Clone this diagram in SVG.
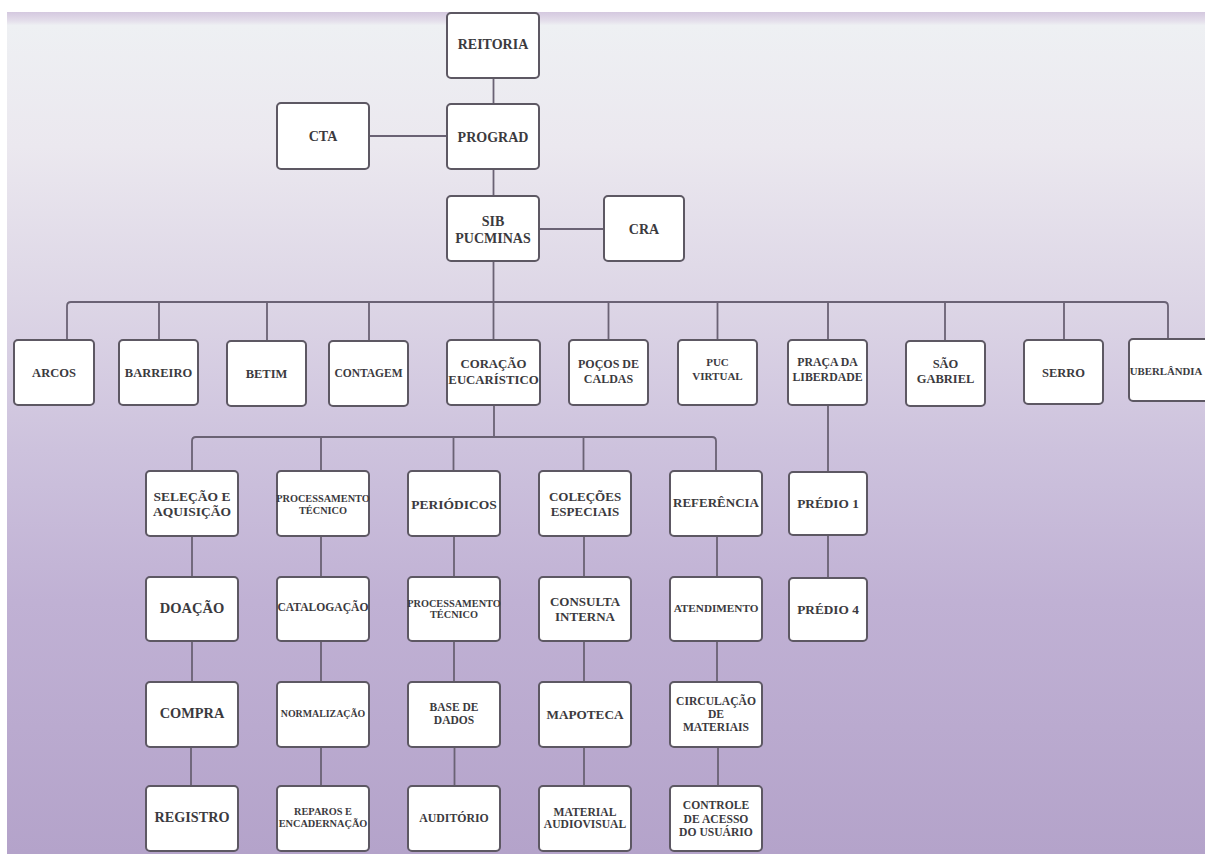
<svg xmlns="http://www.w3.org/2000/svg" width="1205" height="854" viewBox="0 0 1205 854">
<defs>
<linearGradient id="bg" gradientUnits="userSpaceOnUse" x1="0" y1="12" x2="0" y2="854">
<stop offset="0" stop-color="#d4c8df"/>
<stop offset="0.01" stop-color="#e3ddea"/>
<stop offset="0.016" stop-color="#eef0f3"/>
<stop offset="0.16" stop-color="#ebe8ef"/>
<stop offset="0.34" stop-color="#ddd6e6"/>
<stop offset="0.52" stop-color="#cdc2dd"/>
<stop offset="0.70" stop-color="#c0b1d4"/>
<stop offset="1" stop-color="#b4a3ca"/>
</linearGradient>
<style>
.box{fill:#ffffff;stroke:#5d5863;stroke-width:2}
.ln{fill:none;stroke:#6a6274;stroke-width:1.8}
text{font-family:"Liberation Serif","Times New Roman",serif;font-weight:bold;fill:#3b3a3e;text-anchor:middle}
</style>
</defs>
<rect x="0" y="0" width="1205" height="854" fill="#ffffff"/>
<rect x="7" y="12" width="1198" height="842" fill="url(#bg)"/>

<g id="connectors">
<line class="ln" x1="493.5" y1="78" x2="493.5" y2="104"/>
<line class="ln" x1="369" y1="136" x2="447" y2="136"/>
<line class="ln" x1="493.5" y1="169" x2="493.5" y2="196"/>
<line class="ln" x1="539" y1="229" x2="604" y2="229"/>
<line class="ln" x1="493.5" y1="261" x2="493.5" y2="340"/>
<path class="ln" d="M67,340 V306 Q67,302 71,302 H1164 Q1168,302 1168,306 V340"/>
<path class="ln" d="M159,302 V340 M267,302 V340 M369,302 V340 M608.5,302 V340 M717.5,302 V340 M828,302 V340 M945,302 V340 M1064,302 V340"/>
<line class="ln" x1="494" y1="405" x2="494" y2="437"/>
<path class="ln" d="M192,471 V441 Q192,437 196,437 H712 Q716,437 716,441 V471"/>
<path class="ln" d="M321,437 V471 M453.5,437 V471 M583.5,437 V471"/>
<path class="ln" d="M192,536 V577 M192,641 V682 M191,747 V786"/>
<path class="ln" d="M321,536 V577 M321,641 V682 M321,747 V786"/>
<path class="ln" d="M454,536 V577 M454,641 V682 M454.5,747 V786"/>
<path class="ln" d="M584,536 V577 M584,641 V682 M584,747 V786"/>
<path class="ln" d="M717,536 V577 M717,641 V682 M718,747 V786"/>
<path class="ln" d="M828,405 V471 M828,536 V577"/>
</g>

<g id="reitoria"><rect class="box" x="447" y="13" width="92" height="65" rx="4"/><text x="493" y="49" font-size="14">REITORIA</text></g>
<g id="cta"><rect class="box" x="277" y="103" width="92" height="66" rx="4"/><text x="323" y="141" font-size="14">CTA</text></g>
<g id="prograd"><rect class="box" x="447" y="104" width="92" height="65" rx="4"/><text x="493" y="141.5" font-size="14">PROGRAD</text></g>
<g id="sib"><rect class="box" x="447" y="196" width="92" height="65" rx="4"/><text x="493" y="226" font-size="14">SIB</text><text x="493" y="242.5" font-size="14">PUCMINAS</text></g>
<g id="cra"><rect class="box" x="604" y="196" width="80" height="65" rx="4"/><text x="644" y="234" font-size="14">CRA</text></g>

<g id="arcos"><rect class="box" x="14" y="340" width="80" height="65" rx="4"/><text x="54" y="377" font-size="12.5">ARCOS</text></g>
<g id="barreiro"><rect class="box" x="119" y="340" width="79" height="65" rx="4"/><text x="158.5" y="377" font-size="12.5">BARREIRO</text></g>
<g id="betim"><rect class="box" x="227" y="341" width="79" height="65" rx="4"/><text x="266.5" y="378" font-size="12.5">BETIM</text></g>
<g id="contagem"><rect class="box" x="329" y="341" width="79" height="65" rx="4"/><text x="368.5" y="377" font-size="11.5">CONTAGEM</text></g>
<g id="coracao"><rect class="box" x="447" y="340" width="93" height="65" rx="4"/><text x="493.5" y="367.5" font-size="12.8">CORAÇÃO</text><text x="493.5" y="383.5" font-size="12.8">EUCARÍSTICO</text></g>
<g id="pocos"><rect class="box" x="569" y="340" width="79" height="65" rx="4"/><text x="608.5" y="367.5" font-size="12">POÇOS DE</text><text x="608.5" y="382.5" font-size="12">CALDAS</text></g>
<g id="pucvirtual"><rect class="box" x="678" y="340" width="79" height="65" rx="4"/><text x="717.5" y="366" font-size="11">PUC</text><text x="717.5" y="380" font-size="11">VIRTUAL</text></g>
<g id="praca"><rect class="box" x="788" y="340" width="79" height="65" rx="4"/><text x="827.5" y="366" font-size="11.8">PRAÇA DA</text><text x="827.5" y="380.5" font-size="11.8">LIBERDADE</text></g>
<g id="saogabriel"><rect class="box" x="906" y="341" width="79" height="65" rx="4"/><text x="945.5" y="367.5" font-size="12.5">SÃO</text><text x="945.5" y="383" font-size="12.5">GABRIEL</text></g>
<g id="serro"><rect class="box" x="1024" y="340" width="79" height="64" rx="4"/><text x="1063.5" y="376.5" font-size="12.5">SERRO</text></g>
<g id="uberlandia"><rect class="box" x="1129" y="339" width="80" height="62" rx="4"/><text x="1166" y="374.5" font-size="10.8">UBERLÂNDIA</text></g>

<g id="selecao"><rect class="box" x="146" y="471" width="92" height="65" rx="4"/><text x="192" y="501.4" font-size="13.5">SELEÇÃO E</text><text x="192" y="516.4" font-size="13.5">AQUISIÇÃO</text></g>
<g id="processamento1"><rect class="box" x="277" y="471" width="92" height="65" rx="4"/><text x="323" y="501.6" font-size="10.3">PROCESSAMENTO</text><text x="323" y="513.6" font-size="10.3">TÉCNICO</text></g>
<g id="periodicos"><rect class="box" x="408" y="471" width="92" height="65" rx="4"/><text x="454" y="508.5" font-size="13.5">PERIÓDICOS</text></g>
<g id="colecoes"><rect class="box" x="539" y="471" width="92" height="65" rx="4"/><text x="585" y="501.2" font-size="13">COLEÇÕES</text><text x="585" y="516.2" font-size="13">ESPECIAIS</text></g>
<g id="referencia"><rect class="box" x="670" y="471" width="92" height="65" rx="4"/><text x="716" y="507.2" font-size="13">REFERÊNCIA</text></g>
<g id="predio1"><rect class="box" x="789" y="472" width="78" height="63" rx="4"/><text x="828" y="507.5" font-size="13.3">PRÉDIO 1</text></g>

<g id="doacao"><rect class="box" x="146" y="577" width="92" height="64" rx="4"/><text x="192" y="613.4" font-size="14.5">DOAÇÃO</text></g>
<g id="catalogacao"><rect class="box" x="277" y="577" width="92" height="64" rx="4"/><text x="323" y="611" font-size="11.6">CATALOGAÇÃO</text></g>
<g id="processamento2"><rect class="box" x="408" y="577" width="92" height="64" rx="4"/><text x="454" y="607" font-size="10.3">PROCESSAMENTO</text><text x="454" y="617.6" font-size="10.3">TÉCNICO</text></g>
<g id="consulta"><rect class="box" x="539" y="577" width="92" height="64" rx="4"/><text x="585" y="606.2" font-size="13">CONSULTA</text><text x="585" y="621.2" font-size="13">INTERNA</text></g>
<g id="atendimento"><rect class="box" x="670" y="577" width="92" height="64" rx="4"/><text x="716" y="612.2" font-size="11.2">ATENDIMENTO</text></g>
<g id="predio4"><rect class="box" x="789" y="578" width="78" height="63" rx="4"/><text x="828" y="614" font-size="13.3">PRÉDIO 4</text></g>

<g id="compra"><rect class="box" x="146" y="682" width="92" height="65" rx="4"/><text x="192" y="718.4" font-size="14.4">COMPRA</text></g>
<g id="normalizacao"><rect class="box" x="277" y="682" width="92" height="65" rx="4"/><text x="323" y="716.8" font-size="9.9">NORMALIZAÇÃO</text></g>
<g id="basededados"><rect class="box" x="408" y="682" width="92" height="65" rx="4"/><text x="454" y="710.7" font-size="11.5">BASE DE</text><text x="454" y="723.5" font-size="11.5">DADOS</text></g>
<g id="mapoteca"><rect class="box" x="539" y="682" width="92" height="65" rx="4"/><text x="585" y="718.6" font-size="13.2">MAPOTECA</text></g>
<g id="circulacao"><rect class="box" x="670" y="682" width="92" height="65" rx="4"/><text x="716" y="704.8" font-size="11.6">CIRCULAÇÃO</text><text x="716" y="718.1" font-size="11.6">DE</text><text x="716" y="731.4" font-size="11.6">MATERIAIS</text></g>

<g id="registro"><rect class="box" x="146" y="786" width="92" height="65" rx="4"/><text x="192" y="822.3" font-size="14.2">REGISTRO</text></g>
<g id="reparos"><rect class="box" x="277" y="786" width="92" height="65" rx="4"/><text x="323" y="815.3" font-size="10.3">REPAROS E</text><text x="323" y="827" font-size="10.3">ENCADERNAÇÃO</text></g>
<g id="auditorio"><rect class="box" x="408" y="786" width="92" height="65" rx="4"/><text x="454" y="822.4" font-size="11.8">AUDITÓRIO</text></g>
<g id="audiovisual"><rect class="box" x="539" y="786" width="92" height="65" rx="4"/><text x="585" y="815.8" font-size="11.6">MATERIAL</text><text x="585" y="828.4" font-size="11.6">AUDIOVISUAL</text></g>
<g id="controle"><rect class="box" x="670" y="786" width="92" height="65" rx="4"/><text x="716" y="809.1" font-size="11.6">CONTROLE</text><text x="716" y="823.1" font-size="11.6">DE ACESSO</text><text x="716" y="836.4" font-size="11.6">DO USUÁRIO</text></g>
</svg>
